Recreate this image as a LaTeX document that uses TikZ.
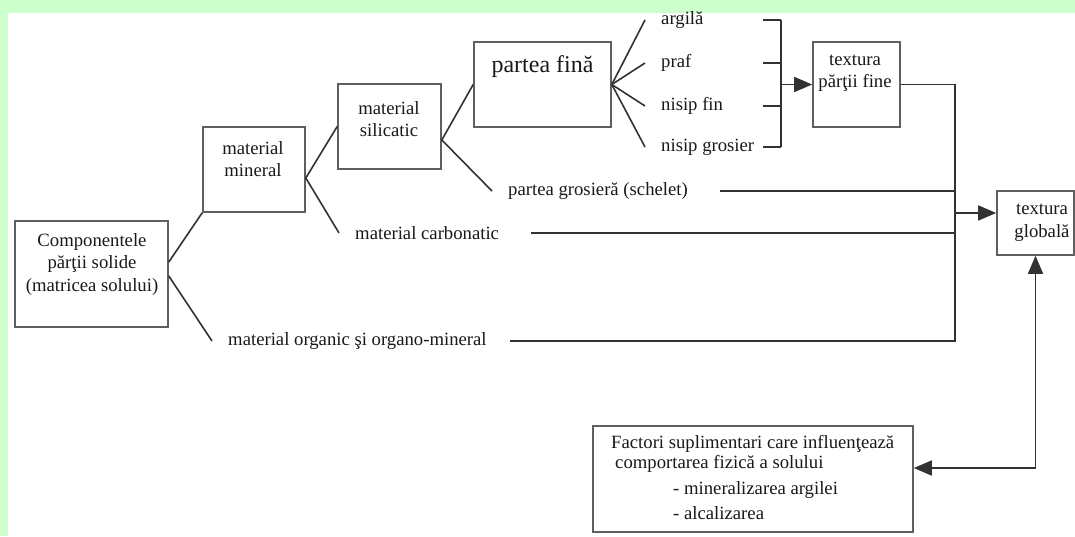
\documentclass[tikz,border=0pt]{standalone}
\usepackage{fontspec}
\setmainfont{Liberation Serif}
\usetikzlibrary{arrows.meta}
\definecolor{bandgreen}{RGB}{204,255,204}
\definecolor{linegray}{RGB}{50,50,50}
\definecolor{boxgray}{RGB}{95,95,95}

\begin{document}
\begin{tikzpicture}[x=1pt,y=-1pt,
  box/.style={draw=boxgray,line width=1.6pt,inner sep=0pt},
  txt/.style={text=black!90,font=\fontsize{18.7}{22.5}\selectfont,align=center,inner sep=0pt},
  lbl/.style={txt,anchor=west,inner xsep=16pt},
  conn/.style={draw=linegray,line width=1.6pt},
  arr/.style={conn,-{Triangle[length=18pt,width=15pt]}}]
  \useasboundingbox (0,0) rectangle (1075,536);
  \fill[bandgreen] (0,0) rectangle (1075,536);
  \fill[white] (8,13) rectangle (1075,536);

  % boxes
  \node[box,minimum width=153pt,minimum height=106pt] (comp) at (91.5,274) {};
  \node[box,minimum width=102pt,minimum height=85pt] (miner) at (254,169.5) {};
  \node[box,minimum width=103pt,minimum height=85pt] (silic) at (389.5,126.5) {};
  \node[box,minimum width=137pt,minimum height=85pt] (fina) at (542.5,84.5) {};
  \node[box,minimum width=87pt,minimum height=85pt] (tfine) at (856.5,84.5) {};
  \node[box,minimum width=77pt,minimum height=64pt] (glob) at (1035.5,223) {};
  \node[box,minimum width=320pt,minimum height=106pt] (factori) at (753,479) {};

  % box texts
  \node[txt] (comptxt) at (92,264) {Componentele\\părţii solide\\(matricea solului)};
  \node[txt] (minertxt) at (253,159) {material\\mineral};
  \node[txt] (silictxt) at (389,119) {material\\silicatic};
  \node[txt,font=\fontsize{24}{28}\selectfont] (finatxt) at (542.5,67) {partea fină};
  \node[txt] (tfinetxt) at (855,73) {textura\\părţii fine};
  \node[txt] (globtxt) at (1042,222.5) {textura\\globală};
  \node[txt,anchor=west] (f1) at (611,444) {Factori suplimentari care influenţează};
  \node[txt,anchor=west] (f2) at (615,464) {comportarea fizică a solului};
  \node[txt,anchor=west] (f3) at (673,490) {- mineralizarea argilei};
  \node[txt,anchor=west] (f4) at (673,513) {- alcalizarea};

  % branch labels
  \node[lbl] (argila) at (645,20) {argilă};
  \node[lbl] (praf) at (645,63) {praf};
  \node[lbl] (nfin) at (645,106) {nisip fin};
  \node[lbl] (ngros) at (645,147) {nisip grosier};
  \node[lbl] (gros) at (492,191) {partea grosieră (schelet)};
  \node[lbl] (carb) at (339,233) {material carbonatic};
  \node[lbl] (org) at (212,341) {material organic şi organo-mineral};

  % tree
  \draw[conn] ([yshift=12pt]comp.east) -- (miner.south west);
  \draw[conn] ([yshift=-2pt]comp.east) -- (org.west);
  \draw[conn] ([yshift=-8.5pt]miner.east) -- (silic.west);
  \draw[conn] ([yshift=-8.5pt]miner.east) -- (carb.west);
  \draw[conn] ([yshift=-13.5pt]silic.east) -- (fina.west);
  \draw[conn] ([yshift=-13.5pt]silic.east) -- (gros.west);
  \foreach \n in {argila,praf,nfin,ngros}
    \draw[conn] (fina.east) -- (\n.west);

  % bracket
  \coordinate (tk) at (763,0);
  \coordinate (br) at (781,84.5);
  \foreach \n in {argila,praf,nfin,ngros}
    \draw[conn] (\n -| tk) -- (\n -| br);
  \draw[conn] (argila -| br) -- (ngros -| br);
  \draw[arr] (br) -- (tfine.west);

  % collector
  \coordinate (jb) at (955,341);
  \draw[conn] ([xshift=7pt]org.east) -- (jb) |- (tfine.east);
  \draw[conn] ([xshift=16pt]gros.east) -- (gros -| jb);
  \draw[conn] ([xshift=16pt]carb.east) -- (carb -| jb);
  \coordinate (ga) at ([yshift=10pt]glob.west);
  \draw[arr] (ga -| jb) -- (ga);

  % extra factors
  \coordinate (fa) at ([yshift=11pt]factori.east);
  \draw[conn,{Triangle[length=18pt,width=15pt]}-{Triangle[length=18pt,width=15pt]}] (fa) -| (glob.south);
\end{tikzpicture}
\end{document}
